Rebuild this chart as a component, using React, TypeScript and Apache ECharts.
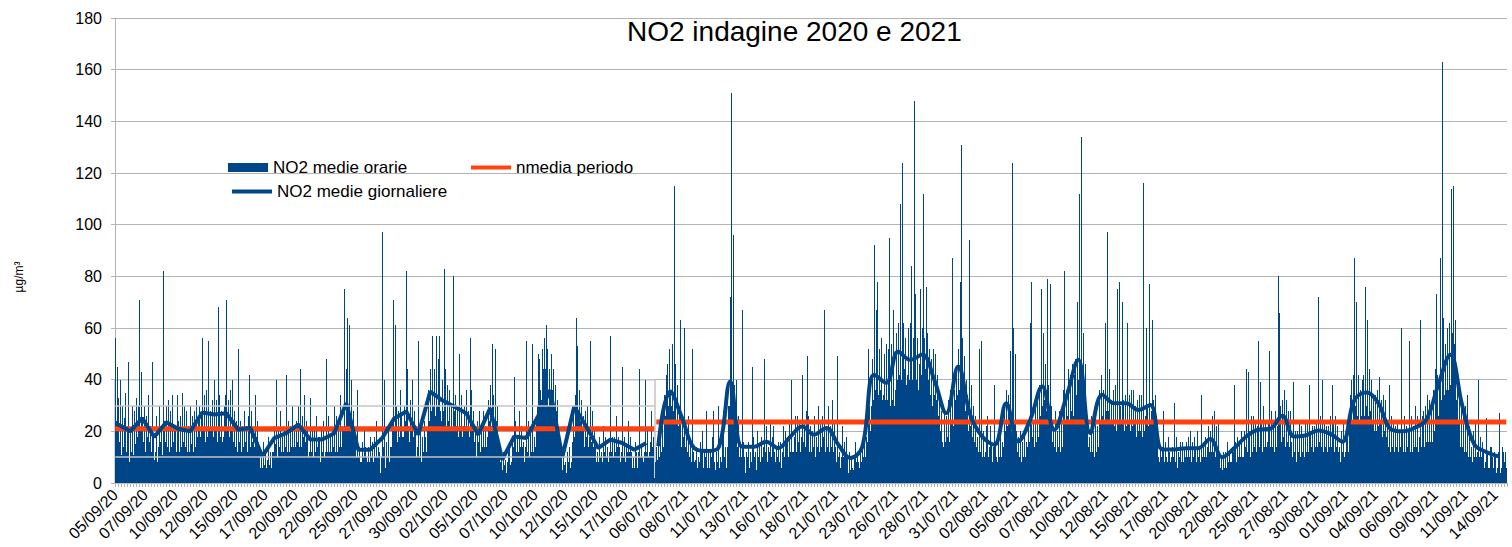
import React, { useEffect, useRef } from "react";
import * as echarts from "echarts";

const FONT = "'Liberation Sans', Arial, sans-serif";
const TITLE = "NO2 indagine 2020 e 2021";
const Y_NAME = "µg/m³";
const NAME_HOURLY = "NO2 medie orarie";
const NAME_DAILY = "NO2 medie giornaliere";
const NAME_MEAN = "nmedia periodo";

const start2020 = Date.UTC(2020, 8, 5);
const start2021 = Date.UTC(2021, 6, 6);

const hourly2020: number[][] = [
  [30,56,18,24,38,45,15,33,12,16,28,40,9,11,22,30,14,10,25,20,35,18,12,9],
  [22,10,47,26,8,6,14,20,12,9,30,17,8,11,24,28,15,10,33,22,14,18,26,30],
  [34,71,14,20,28,43,11,25,16,10,30,24,12,8,19,26,14,18,34,28,12,16,22,20],
  [12,8,20,47,14,18,9,6,10,12,26,22,8,3,14,9,20,30,12,16,22,15,10,11],
  [82,49,24,12,16,10,30,26,14,9,32,20,12,8,18,28,14,11,34,25,16,12,22,18],
  [15,22,10,12,28,34,14,24,9,12,18,26,8,14,20,35,11,16,30,24,10,14,28,18],
  [12,8,22,16,6,12,24,30,10,15,26,20,8,12,18,28,14,10,32,26,14,18,22,25],
  [24,30,12,18,26,14,56,40,20,11,34,28,16,12,36,30,18,14,55,36,20,12,28,26],
  [20,14,32,26,10,18,30,40,12,20,32,26,14,16,28,68,30,34,12,18,28,24,14,16],
  [18,12,30,24,34,16,71,38,14,20,32,28,12,18,26,36,14,20,40,34,12,16,28,22],
  [14,10,24,18,8,12,52,30,10,16,24,20,8,12,18,22,14,10,28,26,16,12,20,18],
  [12,10,26,18,42,24,14,10,28,22,16,12,18,20,10,14,30,34,12,18,24,20,12,16],
  [10,14,6,5,8,12,4,6,16,9,7,5,10,12,3,6,9,8,18,14,6,7,10,12],
  [6,4,12,10,8,12,16,22,10,15,24,40,8,10,14,20,12,14,28,26,10,12,18,16],
  [12,8,20,16,10,14,42,28,12,9,24,20,8,12,16,22,10,14,30,28,12,14,20,16],
  [14,10,24,18,12,16,26,30,12,14,28,44,10,14,22,26,18,12,34,32,16,12,24,18],
  [14,20,8,10,12,8,18,33,12,10,20,16,6,10,14,22,12,8,26,24,14,10,18,14],
  [12,18,8,6,14,20,10,12,24,16,10,8,12,10,48,18,8,12,26,24,10,12,18,14],
  [12,8,20,16,10,14,22,30,10,12,26,18,8,12,22,24,14,10,34,30,14,12,22,18],
  [20,14,75,36,18,22,30,44,64,40,28,16,30,61,18,24,40,34,14,20,28,24,16,14],
  [16,14,10,8,36,12,10,6,14,10,8,5,4,8,12,16,10,8,20,18,12,14,8,10],
  [8,5,14,10,4,8,12,18,10,6,16,12,8,6,14,18,10,8,24,20,10,8,14,12],
  [8,12,4,3,6,10,65,97,14,8,40,22,6,4,12,16,8,10,20,18,6,8,14,12],
  [14,10,24,18,28,71,16,20,40,61,14,30,16,12,26,28,18,14,36,32,20,26,12,18],
  [18,14,30,26,20,24,36,82,44,30,16,22,12,16,28,32,20,14,40,34,18,14,28,20],
  [16,20,10,8,14,12,55,24,10,8,20,14,6,8,12,18,12,10,24,22,14,18,10,12],
  [20,16,36,32,24,18,40,44,28,22,48,57,30,20,44,36,26,22,42,57,30,24,48,36],
  [34,57,20,28,18,24,40,36,20,28,34,83,44,32,22,18,30,38,20,24,36,28,18,20],
  [24,30,16,20,80,40,28,18,34,28,22,14,26,30,18,16,38,50,20,22,34,28,16,18],
  [22,14,30,26,18,22,32,36,16,20,28,24,14,18,30,56,36,32,16,20,28,24,14,16],
  [16,22,10,8,18,24,12,16,28,20,12,10,16,22,8,14,26,28,10,14,22,18,12,14],
  [14,18,26,32,20,24,36,38,20,22,34,54,30,34,18,20,52,36,24,18,30,26,16,18],
  [14,12,8,6,10,8,5,4,10,12,6,7,5,9,4,3,8,6,12,8,14,10,6,7],
  [6,8,12,16,10,14,20,41,24,20,10,12,16,18,8,12,26,28,14,12,22,18,14,12],
  [12,16,8,6,14,10,22,55,12,10,24,16,8,10,14,20,12,10,54,22,12,10,18,14],
  [12,14,20,24,28,30,46,50,40,48,22,36,24,32,40,52,36,44,48,56,42,44,61,50],
  [48,52,30,26,44,40,34,28,46,50,36,30,44,32,26,22,38,36,28,24,32,28,20,18],
  [18,14,10,6,10,8,4,5,12,10,6,7,5,8,3,4,10,12,6,8,14,10,6,5],
  [6,8,12,16,20,28,14,18,34,22,40,64,53,38,26,20,34,36,24,22,32,28,18,20],
  [22,26,14,12,20,28,16,18,30,24,14,12,18,14,55,24,12,16,28,24,12,14,20,18],
  [12,14,8,6,10,12,5,8,18,16,10,8,12,10,6,8,16,22,10,12,18,14,10,8],
  [10,14,6,8,12,10,57,20,12,8,18,14,6,10,12,18,12,10,26,24,14,10,18,14],
  [12,14,8,6,10,12,45,20,10,8,18,14,6,8,12,14,10,12,22,24,10,12,18,14],
  [10,12,6,5,8,10,4,6,14,16,8,12,6,5,10,12,44,18,10,8,14,12,10,6],
  [8,5,12,10,14,40,8,12,20,16,10,8,12,10,16,12,24,28,14,10,18,3,2,2],
];

const hourly2021: number[][] = [
  [8,6,12,14,9,7,16,12,10,8,18,20,12,9,16,22,14,12,28,34,20,26,38,42],
  [40,46,24,30,52,44,28,36,22,30,50,54,26,28,115,84,46,40,24,20,38,34,18,22],
  [26,20,63,28,14,12,26,24,18,12,60,22,10,14,20,18,8,12,22,26,10,8,16,14],
  [8,6,14,52,12,10,8,5,4,9,14,12,6,4,10,8,3,8,12,16,12,10,20,14],
  [6,4,12,8,3,10,14,28,6,5,12,8,4,6,10,12,8,10,18,16,28,12,8,6],
  [5,4,12,10,6,8,30,14,6,4,10,8,3,8,12,24,18,28,10,8,14,10,6,4],
  [8,14,20,30,24,30,40,72,48,151,26,34,96,47,24,38,18,22,40,30,14,10,26,18],
  [10,6,16,12,8,10,18,67,12,16,6,10,4,3,8,12,6,10,16,14,6,5,12,8],
  [6,8,12,45,14,18,10,6,12,10,4,5,12,20,8,10,14,12,6,8,18,14,10,8],
  [6,14,48,44,10,12,18,22,8,6,14,12,10,12,20,24,8,10,18,16,22,18,12,10],
  [8,6,14,12,10,6,16,12,4,8,10,16,6,4,12,10,22,14,8,10,18,20,8,16],
  [14,18,8,10,16,24,12,10,40,18,12,8,12,6,18,12,26,20,10,12,22,26,14,16],
  [20,24,12,10,18,14,26,42,16,12,24,20,10,14,22,28,49,47,18,26,12,10,22,18],
  [12,8,20,16,10,14,22,26,10,8,18,16,12,14,22,30,10,12,24,18,10,14,22,26],
  [18,10,24,67,12,10,22,18,14,12,26,30,10,12,22,20,14,12,32,26,10,12,24,18],
  [14,12,8,6,49,14,10,6,10,12,0,6,8,10,18,22,8,10,16,14,6,10,18,14],
  [8,10,4,3,6,12,5,4,10,8,6,3,2,5,6,10,16,14,8,6,10,12,4,8],
  [6,4,10,12,8,6,14,10,8,10,16,18,8,10,14,18,12,16,27,52,30,26,12,20],
  [30,28,48,40,32,30,52,92,36,32,56,67,48,78,30,34,52,46,30,36,56,48,30,32],
  [34,30,50,44,32,28,54,48,30,32,52,44,95,50,30,28,46,54,32,30,67,48,30,28],
  [36,34,58,52,40,34,62,56,42,38,108,60,36,40,64,124,58,62,36,44,56,52,34,38],
  [42,36,60,54,40,38,62,56,84,58,40,34,56,38,148,60,73,58,36,40,56,50,34,36],
  [46,38,62,75,40,42,60,58,101,112,40,56,44,38,60,76,56,58,40,36,52,48,34,32],
  [44,48,30,28,52,46,34,30,50,46,32,28,42,36,26,22,30,34,20,18,28,24,16,14],
  [14,10,24,28,16,12,22,26,14,18,32,28,12,16,30,36,20,24,42,87,18,22,36,30],
  [32,28,44,40,30,34,46,52,28,36,48,78,131,127,40,56,30,36,49,44,28,26,40,34],
  [28,34,18,20,30,94,16,22,38,28,14,18,24,30,12,16,26,22,10,14,18,16,10,12],
  [14,52,8,12,55,18,10,8,20,14,10,6,12,8,22,12,26,16,10,8,14,10,22,14],
  [16,12,8,6,14,10,20,38,12,16,8,10,4,8,12,16,10,8,20,14,6,10,12,16],
  [12,14,20,28,16,20,32,36,18,22,30,34,20,26,44,51,20,0,34,124,60,36,24,20],
  [28,50,14,20,12,8,18,14,6,10,12,20,8,6,16,12,10,8,18,20,10,8,14,16],
  [14,12,20,24,16,14,62,24,78,26,18,12,20,24,10,14,32,26,16,12,28,32,16,18],
  [34,38,22,26,40,75,30,28,58,46,32,24,38,46,28,26,40,79,30,38,24,28,40,77],
  [30,26,16,12,22,18,10,14,28,24,12,10,20,18,12,14,28,24,12,10,20,26,14,12],
  [26,36,82,70,24,20,34,36,26,22,44,36,20,24,34,42,28,22,46,36,26,24,42,40],
  [40,48,30,34,52,70,36,40,70,112,38,44,56,134,36,40,58,50,34,32,46,40,30,28],
  [26,22,14,10,18,14,8,12,24,26,10,12,20,14,8,10,22,26,12,10,16,22,12,14],
  [28,36,20,24,34,42,22,26,36,34,20,24,62,40,28,22,38,97,26,28,44,36,24,22],
  [30,32,20,24,36,30,18,22,38,32,20,18,30,75,22,24,36,78,18,30,24,22,70,28],
  [28,32,20,18,34,32,22,20,36,62,18,24,34,32,20,18,36,30,22,18,34,36,20,24],
  [26,30,18,16,32,30,20,18,34,28,16,20,32,34,16,18,28,116,16,20,26,18,32,60],
  [30,28,18,22,77,34,24,20,28,20,63,32,26,32,18,24,34,22,16,12,16,12,10,8],
  [8,6,14,12,10,6,14,10,28,12,8,6,16,12,10,8,6,8,14,18,12,10,6,8],
  [10,6,14,12,8,10,31,14,8,6,18,12,6,4,10,12,8,10,16,14,8,6,16,10],
  [8,6,14,12,10,6,16,14,10,8,18,12,6,10,14,20,8,6,16,12,10,8,18,12],
  [14,12,8,6,16,20,10,8,14,10,6,8,34,16,10,8,12,14,6,10,18,12,8,10],
  [14,10,22,18,12,8,20,18,12,10,26,20,8,12,18,28,10,8,22,18,12,10,24,16],
  [10,12,6,4,8,10,3,5,12,10,6,4,8,12,5,6,16,12,8,6,10,12,5,8],
  [6,8,12,14,10,12,37,38,16,12,8,6,14,18,8,10,16,14,8,10,20,14,8,10],
  [10,8,18,20,12,14,44,22,10,12,18,43,20,16,8,10,22,26,12,10,22,26,14,12],
  [18,24,10,12,22,14,55,26,12,14,20,39,24,20,10,12,22,30,14,12,24,22,10,14],
  [16,10,24,22,51,26,14,12,20,28,10,14,22,24,10,12,28,26,14,12,22,14,30,80],
  [66,60,20,30,14,16,32,28,12,18,36,30,14,12,26,32,16,12,28,24,14,12,28,20],
  [16,14,8,10,22,39,12,10,20,16,8,6,14,20,10,12,24,18,10,8,20,22,12,10],
  [14,18,8,10,24,20,12,8,18,24,12,10,28,38,12,20,14,8,22,16,12,10,22,18],
  [14,10,20,24,12,14,22,72,16,12,26,20,10,14,22,40,12,10,24,20,14,10,22,16],
  [12,10,18,22,14,10,26,20,12,14,22,38,24,20,10,12,26,22,14,10,20,22,12,10],
  [14,12,8,6,14,20,10,12,24,18,10,6,12,8,20,12,24,16,10,12,22,14,30,34],
  [36,40,24,22,42,30,87,75,24,30,70,38,22,26,34,42,24,20,36,32,26,24,40,30],
  [34,42,24,26,40,76,30,28,63,38,26,22,40,44,28,24,34,40,22,24,34,30,20,18],
  [30,34,20,18,36,30,22,16,34,41,20,24,32,30,18,16,34,28,20,16,32,26,18,14],
  [22,20,12,14,38,20,12,10,22,26,14,12,18,24,10,12,20,22,10,14,24,18,12,10],
  [18,20,10,14,22,60,14,20,10,12,18,26,10,12,20,22,14,10,20,18,55,18,12,10],
  [18,26,10,12,20,22,14,10,30,24,14,12,22,26,10,12,18,14,26,63,14,12,24,26],
  [20,28,12,14,26,30,16,12,26,34,14,16,24,32,12,16,22,30,14,16,34,36,18,20],
  [44,30,66,73,36,42,26,24,40,28,48,87,30,32,46,163,64,50,34,30,52,54,32,36],
  [52,60,34,36,58,62,38,34,60,114,40,58,79,115,36,54,63,50,32,28,42,34,24,20],
  [28,32,14,12,26,30,14,10,24,30,12,10,22,30,8,12,34,24,10,8,18,22,10,8],
  [14,12,8,6,12,20,10,8,24,14,10,6,12,8,20,40,10,8,18,12,6,10,14,16],
  [10,12,6,4,8,6,16,25,12,10,6,4,6,6,8,14,12,14,8,10,6,6,12,8],
  [8,10,4,3,6,5,12,6,10,27,4,4,6,6,8,14,12,10,5,8,12,10,6,4],
];

const daily2020 = [
  22.6, 20, 25.1, 17.8, 23.5, 21, 20, 27.3, 26.5, 27,
  20.6, 21.4, 10.3, 17.4, 19.3, 22.6, 16.8, 16.8, 19.3, 31,
  12.9, 12.9, 17.4, 25, 27.7, 18.7, 35.4, 32, 29.6, 27,
  18.7, 29, 9, 18, 17.4, 26, 36, 10, 29.6, 21.9,
  13.5, 16.8, 15.5, 12.9, 15.5,
];
const daily2021 = [
  14.2, 35.4, 25, 13.5, 12.4, 13.5, 39.3, 14, 14, 16,
  13.5, 17.9, 21.9, 18.7, 21.3, 14.9, 9.7, 14, 41.9, 38.8,
  50.9, 47.7, 49.7, 40, 27, 45.1, 26.4, 18, 14.8, 30.9,
  16.1, 24.5, 37.4, 20.6, 33.1, 47.7, 19.3, 34.2, 30.9, 30.9,
  28.3, 30.2, 13, 13, 13.5, 13.5, 17, 10, 13.5, 18,
  20.6, 21, 26, 18, 18.5, 20.3, 19, 16, 32, 35,
  31, 21, 20, 21.3, 24.5, 38, 49.6, 30, 15, 12,
  10.3,
];
const mean2020 = 21;
const mean2021 = 23.6;
const overlayLevels = [10, 30];
const overlayTop = 40;

const DAILY_HOUR = 6;
const days2020 = hourly2020.length;
const days2021 = hourly2021.length;
const N = (days2020 + days2021) * 24;
const off2021 = days2020 * 24;

const pad = (n: number) => (n < 10 ? "0" + n : "" + n);
const fmtDay = (t: number) => {
  const d = new Date(t);
  return `${pad(d.getUTCDate())}/${pad(d.getUTCMonth() + 1)}/${String(d.getUTCFullYear()).slice(2)}`;
};

const categories: string[] = [];
for (let d = 0; d < days2020; d++) {
  const lbl = fmtDay(start2020 + d * 86400000);
  for (let h = 0; h < 24; h++) categories.push(lbl);
}
for (let d = 0; d < days2021; d++) {
  const lbl = fmtDay(start2021 + d * 86400000);
  for (let h = 0; h < 24; h++) categories.push(lbl);
}

const hourlyData: (number | null)[] = new Array(N).fill(null);
hourly2020.forEach((row, d) => { for (let h = 0; h < 24; h++) hourlyData[d * 24 + h] = row[h] ?? null; });
hourly2021.forEach((row, d) => { for (let h = 0; h < 24; h++) hourlyData[off2021 + d * 24 + h] = row[h] ?? null; });

const daily2020Data: (number | null)[] = new Array(N).fill(null);
daily2020.forEach((v, d) => { daily2020Data[d * 24 + DAILY_HOUR] = v; });
const daily2021Data: (number | null)[] = new Array(N).fill(null);
daily2021.forEach((v, d) => { daily2021Data[off2021 + d * 24 + DAILY_HOUR] = v; });

const meanData: (number | null)[] = new Array(N).fill(null);
for (let i = 0; i < off2021 - 1; i++) meanData[i] = mean2020;
for (let i = off2021 + 2; i < N; i++) meanData[i] = mean2021;

const BAR_COLOR = "#004587";
const LINE_BLUE = "#004586";
const RED = "#ff420e";
const GRID = "#b3b3b3";
const GRID_LEFT = 115;
const PLOT_WIDTH = N / 2;

export default function App() {
  const ref = useRef<HTMLDivElement>(null);
  useEffect(() => {
    if (!ref.current) return;
    const chart = echarts.init(ref.current, undefined, { renderer: "svg" });
    const legendText = { fontSize: 17, color: "#000", fontFamily: FONT };
    chart.setOption({
      animation: false,
      backgroundColor: "#fff",
      title: {
        text: TITLE,
        left: 627,
        top: 17,
        padding: 0,
        textStyle: { fontSize: 28, fontWeight: "normal", color: "#000", fontFamily: FONT },
      },
      graphic: [
        {
          type: "text",
          x: 19,
          y: 277,
          rotation: Math.PI / 2,
          style: { text: Y_NAME, fontSize: 12, fill: "#000", fontFamily: FONT, align: "center", verticalAlign: "middle" },
        },
      ],
      legend: [
        { data: [NAME_HOURLY], left: 228, top: 159, padding: 0, icon: "rect", itemWidth: 40, itemHeight: 9, selectedMode: false, textStyle: legendText },
        { data: [NAME_MEAN], left: 471, top: 159, padding: 0, icon: "rect", itemWidth: 40, itemHeight: 4, selectedMode: false, textStyle: legendText },
        { data: [NAME_DAILY], left: 232, top: 183, padding: 0, icon: "rect", itemWidth: 40, itemHeight: 4, selectedMode: false, textStyle: legendText },
      ],
      grid: { left: GRID_LEFT, width: PLOT_WIDTH, top: 18, bottom: 64 },
      xAxis: {
        type: "category",
        data: categories,
        boundaryGap: true,
        axisLine: { lineStyle: { color: GRID } },
        axisTick: { show: true, interval: 5, length: 4, lineStyle: { color: GRID } },
        axisLabel: { interval: 59, rotate: 45, fontSize: 16, color: "#000", margin: 9, fontFamily: FONT },
        splitLine: { show: false },
      },
      yAxis: {
        type: "value",
        min: 0,
        max: 180,
        interval: 20,
        axisLine: { show: true, lineStyle: { color: GRID } },
        axisTick: { show: true, length: 4, lineStyle: { color: GRID } },
        axisLabel: { fontSize: 16, color: "#000", margin: 13, fontFamily: FONT },
        splitLine: { lineStyle: { color: GRID, width: 1 } },
      },
      series: [
        {
          name: NAME_HOURLY,
          type: "bar",
          data: hourlyData,
          barWidth: 1,
          itemStyle: { color: BAR_COLOR },
          markArea: {
            silent: true,
            itemStyle: { color: "rgba(0,0,0,0)", borderColor: "#c4c4c4", borderWidth: 1.5 },
            data: [[{ coord: [0, 0] }, { coord: [off2021 - 1, overlayTop] }]],
          },
          markLine: {
            silent: true,
            symbol: "none",
            label: { show: false },
            lineStyle: { color: "#c4c4c4", width: 1.5, type: "solid" },
            data: overlayLevels.map((v) => [{ coord: [0, v] }, { coord: [off2021 - 1, v] }]),
          },
        },
        {
          name: NAME_MEAN,
          type: "line",
          data: meanData,
          showSymbol: false,
          symbol: "none",
          connectNulls: false,
          lineStyle: { color: RED, width: 5 },
          itemStyle: { color: RED },
        },
        {
          name: NAME_DAILY,
          type: "line",
          data: daily2020Data,
          connectNulls: true,
          showSymbol: false,
          symbol: "none",
          lineStyle: { color: LINE_BLUE, width: 4 },
          itemStyle: { color: LINE_BLUE },
        },
        {
          name: NAME_DAILY,
          type: "line",
          data: daily2021Data,
          connectNulls: true,
          smooth: 0.4,
          showSymbol: false,
          symbol: "none",
          lineStyle: { color: LINE_BLUE, width: 4 },
          itemStyle: { color: LINE_BLUE },
        },
      ],
    });
    return () => chart.dispose();
  }, []);
  return (
    <>
      <style>{`#no2chart svg path[fill="${BAR_COLOR}"]{shape-rendering:crispEdges}`}</style>
      <div
        id="no2chart"
        ref={ref}
        style={{ position: "absolute", left: 0, top: 0, width: 1512, height: 547 }}
      />
    </>
  );
}
